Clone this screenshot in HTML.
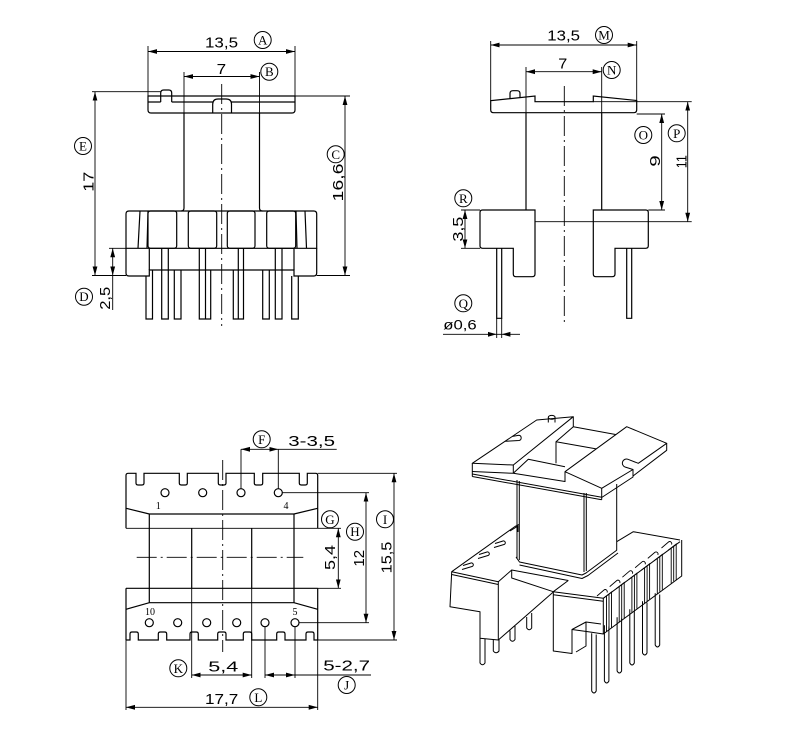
<!DOCTYPE html>
<html><head><meta charset="utf-8"><style>
html,body{margin:0;padding:0;background:#fff;}
svg{display:block;}
text{font-family:"Liberation Sans",sans-serif;fill:#000;stroke:none;}
.c{font-family:"Liberation Serif",serif;font-size:13px;}
.s{font-family:"Liberation Serif",serif;font-size:10px;}
</style></head><body>
<svg width="800" height="738" viewBox="0 0 800 738" xmlns="http://www.w3.org/2000/svg">
<defs>
<marker id="ar" markerWidth="10" markerHeight="6" refX="9" refY="3" orient="auto-start-reverse" markerUnits="userSpaceOnUse"><path d="M0,0.6 L9,3 L0,5.4 Z" fill="#000"/></marker>
</defs>
<rect width="800" height="738" fill="#fff"/>

<!-- ============ TOP-LEFT VIEW ============ -->
<g fill="none" stroke="#000" stroke-width="1.2">
<path d="M148 96 H295 V110 Q295 113 292 113 H151 Q148 113 148 110 Z"/>
<path d="M148 102 H160.7 M171.7 102 H212.7 M231.5 102 H295"/>
<path d="M160.7 102 V93 Q160.7 90 163.7 90 H168.7 Q171.7 90 171.7 93 V102"/>
<path d="M212.7 113 V104 Q213 99 218 99 H226 Q231.5 99 231.5 104 V113"/>
<path d="M184 113 V208 Q184 211 181 211 M259.5 113 V208 Q259.5 211 262.5 211"/>
<path d="M126 248.3 V214 Q126 211 129 211 H313.7 Q316.7 211 316.7 214 V248.3 Z"/>
<path d="M140 211 L138 248.3 M148 211 L147 248.3 M296 211 L297 248.3 M305 211 L306.5 248.3"/>
<rect x="148" y="211" width="28.7" height="37.3" rx="2.5"/>
<rect x="188.3" y="211" width="28.4" height="37.3" rx="2.5"/>
<rect x="227.3" y="211" width="27.7" height="37.3" rx="2.5"/>
<rect x="266.7" y="211" width="29" height="37.3" rx="2.5"/>
<path d="M126 248.3 V273 Q126 276 129 276 H149.3 V270 H294 V276 H313.7 Q316.7 276 316.7 273 V248.3"/>
<path d="M149.3 248.3 V270 M294 248.3 V270"/>
<path d="M146 276 V319 H152.5 V270 M161.7 248.3 V319 H168.3 V248.3 M174.3 270 V319 H181 V270 M199.3 248.3 V319 H205.5 V248.3 M205.5 270 V319 H210.7 V270 M233.3 270 V319 H238.3 V270 M238.3 248.3 V319 H243.5 V248.3 M262.7 270 V319 H269.3 V270 M275.3 248.3 V319 H282 V248.3 M291.7 276 V319 H298.3 V276"/>
</g>
<g fill="none" stroke="#000" stroke-width="0.9">
<path d="M221.7 84 V326" stroke-dasharray="20,4,2,4"/>
<path d="M148 46 V96 M295 46 V96"/>
<path d="M148 51.5 H295" marker-start="url(#ar)" marker-end="url(#ar)"/>
<path d="M184 72 V113 M259.5 72 V113"/>
<path d="M184 76.5 H259.5" marker-start="url(#ar)" marker-end="url(#ar)"/>
<path d="M295 96 H350 M316.7 275.5 H350"/>
<path d="M345 96 V275.5" marker-start="url(#ar)" marker-end="url(#ar)"/>
<path d="M92 91.7 H160.7 M92 275.5 H126"/>
<path d="M95 91.7 V275.5" marker-start="url(#ar)" marker-end="url(#ar)"/>
<path d="M109 248.3 H126"/>
<path d="M112.7 248.3 V275.5" marker-start="url(#ar)" marker-end="url(#ar)"/>
<path d="M112.7 275.5 V310"/>
</g>
<text x="205" y="47.3" font-size="15" textLength="33" lengthAdjust="spacingAndGlyphs">13,5</text>
<text x="216.7" y="74" font-size="15" textLength="9.5" lengthAdjust="spacingAndGlyphs">7</text>
<text transform="translate(93.3,181.7) rotate(-90)" text-anchor="middle" font-size="15" textLength="20" lengthAdjust="spacingAndGlyphs">17</text>
<text transform="translate(343,182.5) rotate(-90)" text-anchor="middle" font-size="15" textLength="38" lengthAdjust="spacingAndGlyphs">16,6</text>
<text transform="translate(110,298.3) rotate(-90)" text-anchor="middle" font-size="15" textLength="23" lengthAdjust="spacingAndGlyphs">2,5</text>
<g fill="none" stroke="#000" stroke-width="1">
<circle cx="262.7" cy="40" r="8.5"/><circle cx="269.3" cy="71.7" r="8.5"/>
<circle cx="335.7" cy="154.3" r="8.5"/><circle cx="83" cy="146" r="8.5"/><circle cx="84" cy="296.7" r="8.5"/>
</g>
<text class="c" x="262.7" y="44.5" text-anchor="middle">A</text>
<text class="c" x="269.3" y="76.2" text-anchor="middle">B</text>
<text class="c" x="335.7" y="158.8" text-anchor="middle">C</text>
<text class="c" x="83" y="150.5" text-anchor="middle">E</text>
<text class="c" x="84" y="301.2" text-anchor="middle">D</text>

<!-- ============ TOP-RIGHT VIEW ============ -->
<g fill="none" stroke="#000" stroke-width="1.2">
<path d="M493.7 112.7 Q490.7 112.7 490.7 109.7 V100.7 L535 96 V101.7 H593.3 V96 L636.7 100.5 V109.7 Q636.7 112.7 633.7 112.7 Z"/>
<path d="M510 99 V93.5 Q510 90.7 513 90.7 H517 Q520 90.7 520 93.5 V98"/>
<path d="M526 112.7 V210 M601.7 112.7 V210"/>
<path d="M482.5 210 H535 V274 Q535 276.7 532 276.7 H516 Q513.3 276.7 513.3 274 V248.3 H482.5 Q480 248.3 480 245.8 V212.5 Q480 210 482.5 210 Z"/>
<path d="M593.3 210 H645.8 Q648.3 210 648.3 212.5 V245.8 Q648.3 248.3 645.8 248.3 H615 V274 Q615 276.7 612 276.7 H596 Q593.3 276.7 593.3 274 Z"/>
<path d="M496.7 248.3 V318.3 H501.7 V248.3 M626.7 248.3 V318.3 H631.7 V248.3"/>
</g>
<g fill="none" stroke="#000" stroke-width="0.9">
<path d="M564.3 86 V322" stroke-dasharray="20,4,2,4"/>
<path d="M593.3 101.7 H691.7 M535 221.7 H691.7"/>
<path d="M490.7 41 V100.7 M636.7 41 V100.5"/>
<path d="M490.7 45 H636.7" marker-start="url(#ar)" marker-end="url(#ar)"/>
<path d="M526 67 V112.7 M601.7 67 V112.7"/>
<path d="M526 71.7 H601.7" marker-start="url(#ar)" marker-end="url(#ar)"/>
<path d="M636.7 114 H665 M648.3 210 H665"/>
<path d="M661.7 114 V210" marker-start="url(#ar)" marker-end="url(#ar)"/>
<path d="M687.7 101.7 V221.7" marker-start="url(#ar)" marker-end="url(#ar)"/>
<path d="M461 210 H480 M461 248.3 H480"/>
<path d="M465 210 V248.3" marker-start="url(#ar)" marker-end="url(#ar)"/>
<path d="M496.7 318.3 V338 M501.7 318.3 V338"/>
<path d="M443 334.3 H520"/>
</g>
<path d="M496.7 334.3 L488 331.9 L488 336.7 Z M501.7 334.3 L510.4 331.9 L510.4 336.7 Z" fill="#000"/>
<text x="547.3" y="40.7" font-size="15" textLength="32.7" lengthAdjust="spacingAndGlyphs">13,5</text>
<text x="558.3" y="68.3" font-size="15" textLength="9" lengthAdjust="spacingAndGlyphs">7</text>
<text transform="translate(660,161) rotate(-90)" text-anchor="middle" font-size="15" textLength="11.5" lengthAdjust="spacingAndGlyphs">9</text>
<text transform="translate(686.7,161.7) rotate(-90)" text-anchor="middle" font-size="15" textLength="13" lengthAdjust="spacingAndGlyphs">11</text>
<text transform="translate(463,229.2) rotate(-90)" text-anchor="middle" font-size="15" textLength="25" lengthAdjust="spacingAndGlyphs">3,5</text>
<text x="443.3" y="329.3" font-size="14" textLength="33.4" lengthAdjust="spacingAndGlyphs">ø0,6</text>
<g fill="none" stroke="#000" stroke-width="1">
<circle cx="604" cy="35" r="8.5"/><circle cx="611.7" cy="70" r="8.5"/>
<circle cx="643.3" cy="135" r="8.5"/><circle cx="676.7" cy="133.3" r="8.5"/>
<circle cx="463.3" cy="198.3" r="8.5"/><circle cx="463.3" cy="303.3" r="8.5"/>
</g>
<text class="c" x="604" y="39.5" text-anchor="middle">M</text>
<text class="c" x="611.7" y="74.5" text-anchor="middle">N</text>
<text class="c" x="643.3" y="139.5" text-anchor="middle">O</text>
<text class="c" x="676.7" y="137.8" text-anchor="middle">P</text>
<text class="c" x="463.3" y="202.8" text-anchor="middle">R</text>
<text class="c" x="463.3" y="307.8" text-anchor="middle">Q</text>

<!-- ============ BOTTOM-LEFT VIEW ============ -->
<g fill="none" stroke="#000" stroke-width="1.2">
<path d="M126 528.3 V475.5 Q126 473.3 128.2 473.3 H136 V483 Q136 485 138 485 H142 Q144 485 144 483 V473.3 H179.3 V483 Q179.3 485 181.3 485 H185.3 Q187.3 485 187.3 483 V473.3 H218.3 V483 Q218.3 485 220.3 485 H224 Q226 485 226 483 V473.3 H254.3 V483 Q254.3 485 256.3 485 H260.7 Q262.7 485 262.7 483 V473.3 H299.3 V483 Q299.3 485 301.3 485 H305.3 Q307.3 485 307.3 483 V473.3 H315.5 Q317.7 473.3 317.7 475.5 V528.3"/>
<path d="M126 508.3 L149.3 514 H294 L317.7 508.3"/>
<path d="M149.3 514 V602.7 M294 514 V602.7"/>
<path d="M191.7 528.3 V588.3 M251.7 528.3 V588.3"/>
<path d="M126 588.3 H317.7 M126 588.3 V640 M317.7 588.3 V640"/>
<path d="M126 609.3 L149.3 602.7 H294 L317.7 609.3"/>
<path d="M126 640 H130 V634 Q130 632 132 632 H136.3 Q138.3 632 138.3 634 V640 H158.3 V634 Q158.3 632 160.3 632 H164.7 Q166.7 632 166.7 634 V640 H190 V634 Q190 632 192 632 H196.3 Q198.3 632 198.3 634 V640 H217.7 V634 Q217.7 632 219.7 632 H224 Q226 632 226 634 V640 H243.3 V634 Q243.3 632 245.3 632 H249.7 Q251.7 632 251.7 634 V640 H276.7 V634 Q276.7 632 278.7 632 H283 Q285 632 285 634 V640 H306 V634 Q306 632 308 632 H312 Q314 632 314 634 V640 H317.7"/>
<circle cx="165" cy="492.7" r="4"/><circle cx="202.7" cy="492.7" r="4"/><circle cx="241" cy="492.7" r="4"/><circle cx="278.3" cy="492.7" r="4"/>
<circle cx="149.3" cy="622.7" r="4"/><circle cx="177.7" cy="622.7" r="4"/><circle cx="206.7" cy="622.7" r="4"/><circle cx="236.7" cy="622.7" r="4"/><circle cx="265" cy="622.7" r="4"/><circle cx="295" cy="622.7" r="4"/>
</g>
<g fill="none" stroke="#000" stroke-width="0.9">
<path d="M222.7 460 V652" stroke-dasharray="20,4,2,4"/>
<path d="M136.7 557.3 H303.3" stroke-dasharray="20,4,2,4"/>
<path d="M126 528.3 H341 M317.7 588.3 H341"/>
<path d="M191.7 588.3 V678 M251.7 588.3 V678"/>
<path d="M126 640 V710 M317.7 640 V710"/>
<path d="M241 449.3 V488.7 M278.3 449.3 V488.7"/>
<path d="M241 449.3 H278.3" marker-start="url(#ar)" marker-end="url(#ar)"/>
<path d="M278.3 449.3 H336.7"/>
<path d="M338.3 528.3 V588.3" marker-start="url(#ar)" marker-end="url(#ar)"/>
<path d="M282.3 492.7 H369 M299 622.7 H369"/>
<path d="M366 492.7 V622.7" marker-start="url(#ar)" marker-end="url(#ar)"/>
<path d="M317.7 473.3 H397 M317.7 640 H397"/>
<path d="M394 473.3 V640" marker-start="url(#ar)" marker-end="url(#ar)"/>
<path d="M191.7 675 H251.7" marker-start="url(#ar)" marker-end="url(#ar)"/>
<path d="M265 626.7 V678 M295 626.7 V678"/>
<path d="M265 675 H295" marker-start="url(#ar)" marker-end="url(#ar)"/>
<path d="M295 675 H371"/>
<path d="M126 707.3 H317.7" marker-start="url(#ar)" marker-end="url(#ar)"/>
</g>
<text class="s" x="158.3" y="509" text-anchor="middle">1</text>
<text class="s" x="286" y="509" text-anchor="middle">4</text>
<text class="s" x="150" y="615" text-anchor="middle">10</text>
<text class="s" x="295" y="615" text-anchor="middle">5</text>
<text x="288.3" y="446" font-size="15" textLength="46.7" lengthAdjust="spacingAndGlyphs">3-3,5</text>
<text transform="translate(335,557.5) rotate(-90)" text-anchor="middle" font-size="15" textLength="25" lengthAdjust="spacingAndGlyphs">5,4</text>
<text transform="translate(364,558.3) rotate(-90)" text-anchor="middle" font-size="15" textLength="16.7" lengthAdjust="spacingAndGlyphs">12</text>
<text transform="translate(391.7,557.5) rotate(-90)" text-anchor="middle" font-size="15" textLength="31.7" lengthAdjust="spacingAndGlyphs">15,5</text>
<text x="208.3" y="671.7" font-size="15" textLength="30" lengthAdjust="spacingAndGlyphs">5,4</text>
<text x="323.3" y="670.7" font-size="15" textLength="46.7" lengthAdjust="spacingAndGlyphs">5-2,7</text>
<text x="205" y="704" font-size="15" textLength="33.3" lengthAdjust="spacingAndGlyphs">17,7</text>
<g fill="none" stroke="#000" stroke-width="1">
<circle cx="261.7" cy="439.3" r="8.5"/><circle cx="330" cy="519.3" r="8.5"/><circle cx="355" cy="531.7" r="8.5"/>
<circle cx="385" cy="519.3" r="8.5"/><circle cx="178.3" cy="668.3" r="8.5"/><circle cx="346.7" cy="685" r="8.5"/>
<circle cx="258.3" cy="697.3" r="8.5"/>
</g>
<text class="c" x="261.7" y="443.8" text-anchor="middle">F</text>
<text class="c" x="330" y="523.8" text-anchor="middle">G</text>
<text class="c" x="355" y="536.2" text-anchor="middle">H</text>
<text class="c" x="385" y="523.8" text-anchor="middle">I</text>
<text class="c" x="178.3" y="672.8" text-anchor="middle">K</text>
<text class="c" x="346.7" y="689.5" text-anchor="middle">J</text>
<text class="c" x="258.3" y="701.8" text-anchor="middle">L</text>

<!-- ============ 3D VIEW ============ -->
<g fill="none" stroke="#000" stroke-width="1" stroke-linejoin="round">
<!-- core body -->
<path d="M517 480 V559 M519.3 481 V560"/>
<path d="M584 493 V572 M586.3 493 V571"/>
<path d="M616.7 484 V550"/>
<path d="M516 557 L519.5 562 L582 575 L586 573 L617 550 M519.5 565 L582 578.5 L588 575.5 L618 553"/>
<!-- top flange -->
<path d="M472.3 463.3 L536.7 420 L573.3 416.7 L513.3 465 Z" fill="#fff"/>
<path d="M505 441.3 L519 440.5 A2.7 2.7 0 0 0 519 435.2 L512.5 436.4"/>
<path d="M548.3 422.5 V417.5 M555 422.5 V417.5"/>
<ellipse cx="551.7" cy="417.3" rx="3.4" ry="1.9"/>
<path d="M472.3 463.3 V476.5 M513.3 465 V473.3"/>
<path d="M472.3 471.5 L513.3 473.3 L565 481.5"/>
<path d="M472.3 474 L601.7 497.3 M472.3 476.5 L601.7 499.8"/>
<path d="M513.3 473.3 L528.3 459.3 L565 466.7"/>
<path d="M556 463.3 V441.7 L573.3 426.7 L618.3 435 M556 441.7 L598.3 449.3 M573.3 416.7 V426.7"/>
<path d="M565 471.7 L626.7 426.7 L666.7 443.3 L638.3 463.3 L628 459.3 A3.8 3.8 0 0 0 625 467 L633 469.5 L601.7 488.3 Z" fill="#fff"/>
<path d="M565 471.7 V482 M601.7 488.3 V499.8 M601.7 497.5 L633 477 V469.5 M633 476 L666.7 450.3 V443.3"/>
<!-- left base block -->
<path d="M451.7 571.7 L498.3 581.7 V640 L480 638.3 V611.7 L450 606.7 Z"/>
<path d="M451.7 574.5 L498.3 584.5"/>
<path d="M451.7 571.7 L515 526.5 L519 524.5 M498.3 581.7 L511.7 570 L568.3 580.5"/>
<path d="M498.3 640 L553.3 592"/>
<path d="M511.7 570 V578 L553.3 591.7"/>
<path d="M462 569.5 L472 566.5 A1.8 1.8 0 0 0 471 563 L463 565.5 M478 558.5 L488 555.5 A1.8 1.8 0 0 0 487 552 L479 554.5 M494 547.5 L504 544.5 A1.8 1.8 0 0 0 503 541 L495 543.5"/>
<path d="M510 531 L518 526 V532"/>
<!-- left pins -->
<path d="M480 638.3 V663 Q482.5 666.5 485 663 V639 M493.3 640 V651 Q496 654.5 499 651 V639 M510 630.5 V639.5 Q512.5 643 515 639.5 V626 M526.7 617 V628 Q529.2 631.5 531.7 628 V613"/>
<!-- right base block -->
<path d="M553.3 591.7 L603.3 598.3 V634 L588.3 631.7 L572 629.5 V653.5 L553.3 651 Z" fill="#fff"/>
<path d="M553.3 594.7 L603.3 601.3"/>
<path d="M572 629.5 L586 622 L601 624 M576 652 L586 646 V622"/>
<path d="M553.3 591.7 L568.3 580.5 M616.7 541.7 L633.3 531.7 L680 540"/>
<path d="M603.3 598.3 L680 541.7 M603.3 634 L681.7 576 V540"/>
</g>
<!-- comb teeth -->
<g fill="none" stroke="#000" stroke-width="0.9">
<path d="M603.3 598.3 L611.5 592 V627.5 M606.5 596 V631.5 M609 594 V629.5"/>
<path d="M616 588.9 L624.2 582.6 V618 M619.2 586.6 V622 M621.7 584.6 V620"/>
<path d="M628.7 579.5 L636.9 573.2 V608.6 M631.9 577.2 V612.6 M634.4 575.2 V610.6"/>
<path d="M641.4 570.1 L649.6 563.8 V599.2 M644.6 567.8 V603.2 M647.1 565.8 V601.2"/>
<path d="M654.1 560.7 L662.3 554.4 V589.8 M657.3 558.4 V593.8 M659.8 556.4 V591.8"/>
<path d="M668 550.3 L676.2 544 V580.4 M671.2 548 V583.4 M673.7 546 V581.4"/>
<path d="M597 596 L604 590 A2 2 0 0 1 607 592.5 M609.7 586.6 L616.7 580.6 A2 2 0 0 1 619.7 583.1 M622.4 577.2 L629.4 571.2 A2 2 0 0 1 632.4 573.7 M635.1 567.8 L642.1 561.8 A2 2 0 0 1 645.1 564.3 M647.8 558.4 L654.8 552.4 A2 2 0 0 1 657.8 554.9 M661.5 548 L668.5 542 A2 2 0 0 1 671.5 544.5"/>
</g>
<!-- right pins -->
<g fill="none" stroke="#000" stroke-width="1">
<path d="M591.7 633.3 V691 Q594 695 596.2 691 V634.5"/>
<path d="M604.4 625.3 V681 Q606.7 685 608.9 681 V626.5"/>
<path d="M617.1 617.3 V671 Q619.4 675 621.6 671 V618.5"/>
<path d="M629.8 609.3 V663 Q632.1 667 634.3 663 V610.5"/>
<path d="M642.5 601.3 V653 Q644.8 657 647 653 V602.5"/>
<path d="M655.2 593.3 V645 Q657.5 649 659.7 645 V594.5"/>
</g>
</svg>
</body></html>
